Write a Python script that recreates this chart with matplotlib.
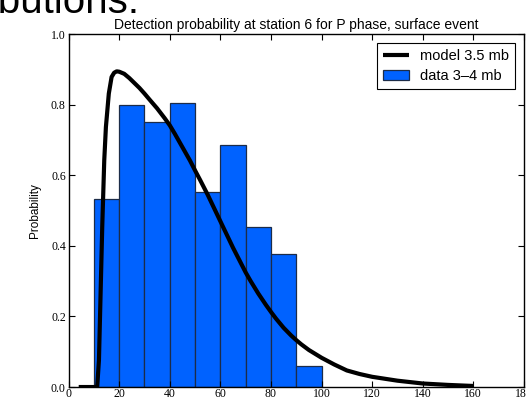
import matplotlib
matplotlib.use("Agg")
import matplotlib.pyplot as plt

# histogram of observed detections (10 unit bins)
bin_edges = [10, 20, 30, 40, 50, 60, 70, 80, 90, 100]
bin_probs = [0.533, 0.799, 0.750, 0.804, 0.553, 0.687, 0.454, 0.376, 0.059]

# model curve
model_x = [4, 11.3, 12.0, 12.65, 13.3, 14.1, 14.75, 15.9, 17.0, 18.0, 19.0, 20, 22,
           24, 26, 28, 30, 32, 35, 38, 40, 42, 45, 48, 50, 52, 55, 58, 60, 62,
           65, 68, 70, 72, 75, 78, 80, 82, 85, 88, 90, 92, 95, 100, 105,
           110, 115, 120, 130, 140, 150, 160]
model_y = [0, 0, 0.076, 0.265, 0.454, 0.643, 0.737, 0.832, 0.879, 0.891, 0.895, 0.894,
           0.888, 0.876, 0.862, 0.848, 0.832, 0.815, 0.79, 0.762, 0.742, 0.718, 0.68,
           0.642, 0.614, 0.587, 0.545, 0.500, 0.470, 0.440, 0.395, 0.353, 0.325,
           0.300, 0.265, 0.233, 0.213, 0.194, 0.168, 0.146, 0.133, 0.121, 0.105,
           0.083, 0.064, 0.047, 0.037, 0.029, 0.018, 0.010, 0.006, 0.003]

x_ticks = [0, 20, 40, 60, 80, 100, 120, 140, 160, 180]
y_ticks = [0.0, 0.2, 0.4, 0.6, 0.8, 1.0]

fig = plt.figure(figsize=(5.26, 3.99), dpi=100)
ax = fig.add_axes([0.1304, 0.030, 0.8656, 0.884])

ax.hist(bin_edges[:-1], bins=bin_edges, weights=bin_probs, color='#0062ff',
        edgecolor='#1c2c48', linewidth=0.9, label='data 3\u20134 mb')
ax.plot(model_x, model_y, color='black', linewidth=3.0, label='model 3.5 mb',
        solid_capstyle='butt', solid_joinstyle='round')

ax.set_xlim(0, 180)
ax.set_ylim(0, 1.0)
ax.set_xticks(x_ticks)
ax.set_yticks(y_ticks)
ax.set_yticklabels([f"{v:.1f}" for v in y_ticks])
ax.tick_params(direction='in', length=4.5, width=0.8, top=True, right=True,
               labelsize=8.5, pad=2)
ax.tick_params(axis='x', pad=1)
for lab in ax.get_xticklabels() + ax.get_yticklabels():
    lab.set_family('Liberation Serif')
for s in ax.spines.values():
    s.set_linewidth(1.0)

ax.set_title('Detection probability at station 6 for P phase, surface event',
             fontsize=10, family='Liberation Sans', pad=4)
ax.set_ylabel('Probability', fontsize=8.5, family='Liberation Sans', labelpad=7)

handles, labels = ax.get_legend_handles_labels()
leg = ax.legend(handles[::-1], labels[::-1], loc='upper right',
                prop={'family': 'Liberation Sans', 'size': 10.5},
                fancybox=False, framealpha=1, edgecolor='black',
                handlelength=1.8, handletextpad=0.75, borderaxespad=0.6,
                labelspacing=0.4)
leg.get_frame().set_linewidth(0.8)

# slide heading cut off at the top edge
fig.text(140 / 526, 1 - 13 / 399, 'Distributions:', ha='right', va='baseline',
         fontsize=29, family='Liberation Sans', color='black')

fig.savefig('out.png', dpi=100)
